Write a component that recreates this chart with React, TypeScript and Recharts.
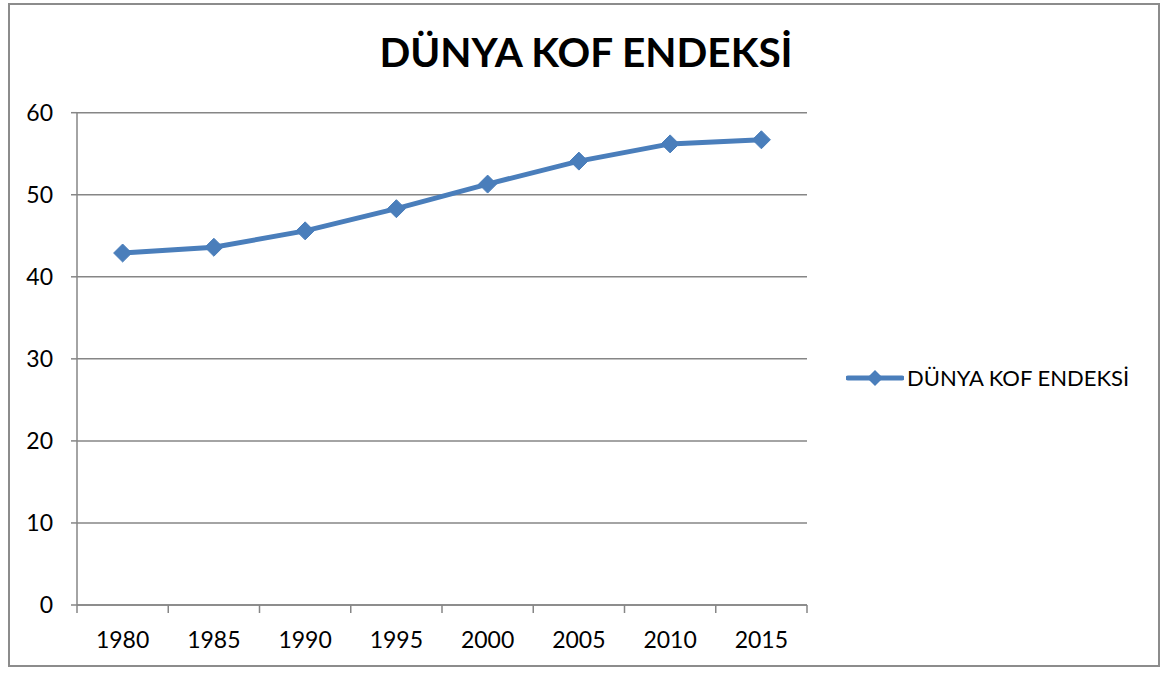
import { LineChart, Line, XAxis, YAxis, CartesianGrid } from "recharts"

const years = ["1980", "1985", "1990", "1995", "2000", "2005", "2010", "2015"]
const kofValues = [42.9, 43.6, 45.6, 48.3, 51.3, 54.1, 56.2, 56.7]
const yTicks = [0, 10, 20, 30, 40, 50, 60]
const seriesName = "DÜNYA KOF ENDEKSİ"

const data = years.map((year, i) => ({ year, value: kofValues[i] }))

const W = 1169
const H = 674
const PLOT_LEFT = 77
const PLOT_RIGHT = 807
const BLUE = "#4a7ebb"
const FONT = "Lato, 'Open Sans', sans-serif"
const band = (PLOT_RIGHT - PLOT_LEFT) / years.length

const XTick = (props: any) => {
  const { x, y, payload, index } = props
  const isLast = index === years.length - 1
  return (
    <g>
      <line x1={x - band / 2} x2={x - band / 2} y1={y - 8} y2={y} stroke="#868686" strokeWidth={1.5} />
      {isLast && (
        <line x1={x + band / 2} x2={x + band / 2} y1={y - 8} y2={y} stroke="#868686" strokeWidth={1.5} />
      )}
      <text x={x} y={y + 35} textAnchor="middle" fontSize={23} fill="#000" fontFamily={FONT}>
        {payload.value}
      </text>
    </g>
  )
}

const Diamond = (props: any) => {
  const { cx, cy } = props
  const r = 9
  return (
    <path
      d={`M${cx},${cy - r} L${cx + r},${cy} L${cx},${cy + r} L${cx - r},${cy} Z`}
      fill={BLUE}
      stroke={BLUE}
    />
  )
}

export default function App() {
  return (
    <div style={{ position: "absolute", left: 0, top: 0, width: W, height: H, background: "#fff" }}>
      <div
        style={{
          position: "absolute",
          left: 8,
          top: 3,
          width: 1148,
          height: 660,
          border: "2px solid #8c8c8c",
        }}
      />
      <div
        style={{
          position: "absolute",
          left: 0,
          width: 1172,
          top: 27,
          textAlign: "center",
          fontFamily: FONT,
          fontWeight: 700,
          fontSize: 40.5,
          color: "#000",
        }}
      >
        {seriesName}
      </div>
      <LineChart
        width={W}
        height={H}
        data={data}
        margin={{ top: 112.7, right: W - PLOT_RIGHT, bottom: 19, left: 17 }}
        style={{ position: "absolute", left: 0, top: 0 }}
      >
        <CartesianGrid vertical={false} stroke="#868686" strokeWidth={1.5} />
        <XAxis
          dataKey="year"
          scale="band"
          height={50}
          axisLine={{ stroke: "#868686", strokeWidth: 1.5 }}
          tickLine={false}
          tick={<XTick />}
          interval={0}
        />
        <YAxis
          width={60}
          domain={[0, 60]}
          ticks={yTicks}
          axisLine={{ stroke: "#868686", strokeWidth: 1.5 }}
          tickLine={{ stroke: "#868686", strokeWidth: 1.5 }}
          tickSize={6}
          tick={{ fontSize: 23, fill: "#000", fontFamily: FONT }}
          tickMargin={18}
        />
        <Line
          dataKey="value"
          name={seriesName}
          stroke={BLUE}
          strokeWidth={5}
          dot={<Diamond />}
          activeDot={false}
          isAnimationActive={false}
        />
      </LineChart>
      <div
        style={{
          position: "absolute",
          left: 846,
          top: 364,
          display: "flex",
          alignItems: "center",
          fontFamily: FONT,
          fontSize: 22,
          color: "#000",
        }}
      >
        <svg width={58} height={20}>
          <line x1={2} x2={56} y1={10} y2={10} stroke={BLUE} strokeWidth={5} strokeLinecap="round" />
          <path d="M29,2 L37,10 L29,18 L21,10 Z" fill={BLUE} />
        </svg>
        <span style={{ marginLeft: 3 }}>{seriesName}</span>
      </div>
    </div>
  )
}
